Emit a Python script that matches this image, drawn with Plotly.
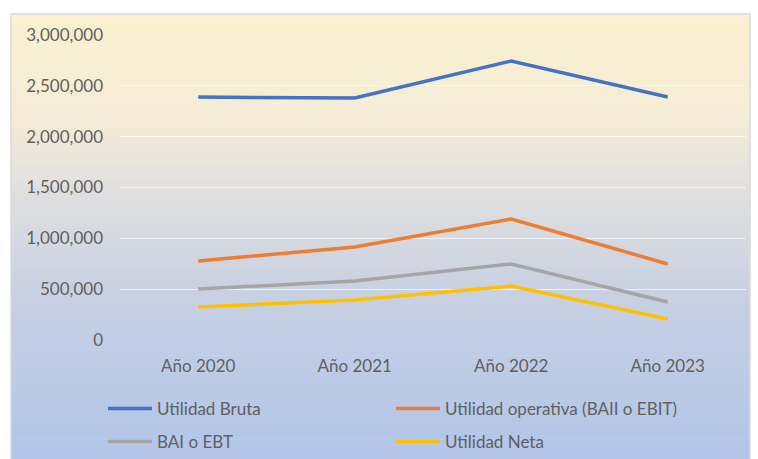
import plotly.graph_objects as go

categories = ["Año 2020", "Año 2021", "Año 2022", "Año 2023"]
utilidad_bruta = [2390000, 2380000, 2745000, 2390000]
utilidad_operativa = [777000, 915000, 1190000, 748000]
bai_ebt = [502000, 580000, 748000, 374000]
utilidad_neta = [325000, 393000, 531000, 207000]

series = [
    ("Utilidad Bruta", utilidad_bruta, "#4472C4", "legend"),
    ("Utilidad operativa (BAII o EBIT)", utilidad_operativa, "#ED7D31", "legend"),
    ("BAI o EBT", bai_ebt, "#A5A5A5", "legend2"),
    ("Utilidad Neta", utilidad_neta, "#FFC000", "legend2"),
]

W, H = 758, 459
L, R, T, B = 120, 12, 35, 119
PW, PH = W - L - R, H - T - B

def px_x(p):
    return (p - L) / PW

def px_y(p):
    return (H - B - p) / PH

fig = go.Figure()
for name, vals, col, lg in series:
    fig.add_trace(go.Scatter(x=categories, y=vals, name=name, mode="lines", legend=lg,
                             line=dict(color=col, width=3.5)))

# gradient background of chart box
stops = [(14, (251, 241, 208)), (120, (244, 236, 214)), (200, (222, 222, 224)),
         (300, (198, 208, 226)), (459, (178, 197, 233))]

def col_at(py):
    for (y0, c0), (y1, c1) in zip(stops, stops[1:]):
        if y0 <= py <= y1:
            t = (py - y0) / (y1 - y0)
            return "rgb(%d,%d,%d)" % tuple(round(a + (b - a) * t) for a, b in zip(c0, c1))
    return "rgb(%d,%d,%d)" % stops[-1][1]

shapes = []
x0, x1, ytop, ybot = 11, 750, 14, 459
n = 90
step = (ybot - ytop) / n
for i in range(n):
    a = ytop + i * step
    b = a + step + 0.6
    shapes.append(dict(type="rect", xref="paper", yref="paper", layer="below",
                       x0=px_x(x0), x1=px_x(x1), y0=px_y(min(b, ybot)), y1=px_y(a),
                       fillcolor=col_at(a + step / 2), line=dict(width=0)))
shapes.append(dict(type="rect", xref="paper", yref="paper", layer="below",
                   x0=px_x(x0), x1=px_x(x1), y0=px_y(ybot + 2), y1=px_y(ytop),
                   fillcolor="rgba(0,0,0,0)", line=dict(color="#D9D9D9", width=1.5)))

FAM = "Lato, Calibri, sans-serif"
font = dict(family=FAM, size=17, color="#606060")

legend_common = dict(orientation="h", xanchor="left", yanchor="middle",
                     entrywidth=229, entrywidthmode="pixels", itemwidth=44,
                     bgcolor="rgba(0,0,0,0)", font=font)

fig.update_layout(
    width=W, height=H,
    margin=dict(l=L, r=R, t=T, b=B, autoexpand=False),
    paper_bgcolor="white", plot_bgcolor="rgba(0,0,0,0)",
    shapes=shapes,
    font=font,
    showlegend=True,
    legend=dict(x=px_x(103), y=px_y(409), **legend_common),
    legend2=dict(x=px_x(103), y=px_y(442), **legend_common),
    xaxis=dict(range=[-0.5, 3.5], showgrid=False, zeroline=False, showline=False, ticks="",
               ticklabelstandoff=14, tickfont=font, automargin=False),
    yaxis=dict(range=[0, 3000000], tickvals=[0, 500000, 1000000, 1500000, 2000000, 2500000, 3000000],
               tickformat=",d", showgrid=True, gridcolor="rgba(255,255,255,0.65)", gridwidth=1.2,
               zeroline=False, showline=False, ticks="", ticklabelstandoff=16, tickfont=font,
               automargin=False),
)

fig.write_html("out.html")
